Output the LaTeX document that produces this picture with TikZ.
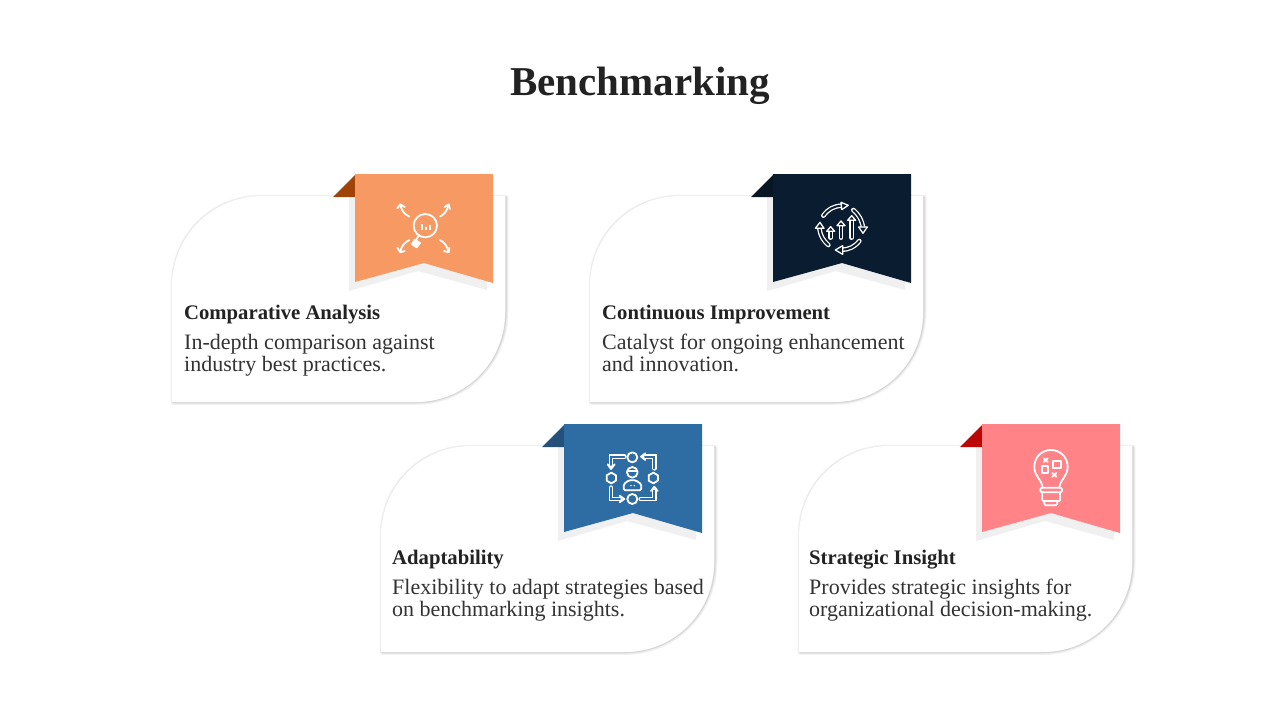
\documentclass[tikz,border=0pt]{standalone}
\usepackage{fontspec}
\setmainfont{Liberation Serif}
\usepackage{xcolor}
\definecolor{colorOrange}{HTML}{F69963}
\definecolor{colorOrangeDark}{HTML}{A04309}
\definecolor{colorNavy}{HTML}{0A1C30}
\definecolor{colorNavyDark}{HTML}{081523}
\definecolor{colorBlue}{HTML}{2E6DA4}
\definecolor{colorBlueDark}{HTML}{25507A}
\definecolor{colorPink}{HTML}{FF8387}
\definecolor{colorPinkDark}{HTML}{BE0505}
\definecolor{colorFlap}{HTML}{F0F0F0}
\definecolor{colorHead}{HTML}{222222}
\definecolor{colorBody}{HTML}{333333}
\usetikzlibrary{positioning}
\tikzset{
  titletext/.style={anchor=base, inner sep=0, text=colorHead, font=\fontsize{41}{44}\selectfont\bfseries},
  headtext/.style={anchor=base west, inner sep=0, text=colorHead, font=\fontsize{20.7}{24}\selectfont\bfseries},
  bodytext/.style={anchor=north west, inner sep=0, align=left, text=colorBody, font=\fontsize{22}{22}\selectfont},
  icon/.style={draw=white, line width=1.8pt, line join=round, line cap=round},
  thinicon/.style={icon, line width=1.3pt},
  tube/.style={draw=white, line width=4.6pt, line cap=round, postaction={draw=#1, line width=2pt, line cap=round}},
}
\begin{document}
\begin{tikzpicture}[x=1pt, y=-1pt]
\useasboundingbox (0,0) rectangle (1280,720);
\node[titletext] (title) at (640,95) {Benchmarking};
% cards
\foreach \cardx/\cardy/\main/\dark in {172/196/colorOrange/colorOrangeDark, 590/196/colorNavy/colorNavyDark, 381/446/colorBlue/colorBlueDark, 799/446/colorPink/colorPinkDark}{
  \begin{scope}[shift={(\cardx,\cardy)}]
  \foreach \w/\g in {5/4, 3.5/7, 2/11, 1/16}{
    \draw[line width=\w pt, line join=round, black!\g] (1,206.5) -- (1,90) .. controls (1,40) and (40,1) .. (90,1) -- (334,1) -- (334,116) .. controls (334,166) and (294,206.5) .. (244,206.5) -- cycle;
  }
  \fill[white] (0,206) -- (0,90) .. controls (0,40) and (40,0) .. (90,0) -- (333,0) -- (333,116) .. controls (333,166) and (294,206) .. (244,206) -- cycle;
  \fill[colorFlap] (177,1) -- (315,1) -- (315,94) -- (246,75) -- (177,95) -- cycle;
  \fill[\dark] (161,1) -- (183,-21) -- (183,1) -- cycle;
  \fill[\main] (183,-22) -- (321,-22) -- (321,87) -- (252,67) -- (183,86) -- cycle;
  \end{scope}
}
% text
\node[headtext] (headA) at (184,319) {Comparative Analysis};
\node[bodytext] (bodyA) at (184,334) {In-depth comparison against\\industry best practices.};
\node[headtext] (headB) at (602,319) {Continuous Improvement};
\node[bodytext] (bodyB) at (602,334) {Catalyst for ongoing enhancement\\and innovation.};
\node[headtext] (headC) at (392,564) {Adaptability};
\node[bodytext] (bodyC) at (392,579) {Flexibility to adapt strategies based\\on benchmarking insights.};
\node[headtext] (headD) at (809,564) {Strategic Insight};
\node[bodytext] (bodyD) at (809,579) {Provides strategic insights for\\organizational decision-making.};
% magnifier icon
\begin{scope}[shift={(320,165)}, x=0.3333pt, y=-0.3333pt]
\draw[icon] (316,182) circle (35);
\draw[icon, line width=1.8pt, line cap=butt] (305,196) -- (305,176) (317,196) -- (317,186) (329,196) -- (329,180);
\draw[icon] (296,212) -- (290,222);
\draw[icon, fill=white] (284,224) -- (300,234) -- (290,247) -- (276,238) -- cycle;
\draw[icon] (268,155) to[bend left=25] (241,120);
\draw[icon] (232,130) -- (241,118) -- (254,126);
\draw[icon] (360,155) to[bend right=25] (385,120);
\draw[icon] (374,126) -- (386,118) -- (390,132);
\draw[icon] (268,225) to[bend right=25] (241,260);
\draw[icon] (232,248) -- (241,262) -- (254,258);
\draw[icon] (360,225) to[bend left=25] (385,260);
\draw[icon] (372,258) -- (386,262) -- (388,248);
\end{scope}
% cycle icon
\begin{scope}[shift={(740,165)}, x=0.3333pt, y=-0.3333pt]
\draw[tube=colorNavy] (250,152) to[bend left=25] (305,122);
\draw[thinicon, fill=colorNavy] (303,112) -- (325,121) -- (305,134) -- cycle;
\draw[tube=colorNavy] (340,135) to[bend left=20] (369,188);
\draw[thinicon, fill=colorNavy] (356,186) -- (382,186) -- (369,205) -- cycle;
\draw[tube=colorNavy] (358,228) to[bend left=25] (305,254);
\draw[thinicon, fill=colorNavy] (308,242) -- (286,255) -- (308,268) -- cycle;
\draw[tube=colorNavy] (265,240) to[bend left=20] (238,190);
\draw[thinicon, fill=colorNavy] (226,190) -- (240,172) -- (252,190) -- cycle;
\foreach \arrowx/\arrowtop in {272/185, 303/168, 335/152}{
  \draw[tube=colorNavy] (\arrowx,218) -- (\arrowx,\arrowtop+12);
  \draw[thinicon, fill=colorNavy] (\arrowx-12,\arrowtop+14) -- (\arrowx,\arrowtop) -- (\arrowx+12,\arrowtop+14) -- cycle;
}
\end{scope}
% team icon
\begin{scope}[shift={(530,415)}, x=0.3333pt, y=-0.3333pt]
\draw[icon] (307,127) circle (15) (307,252) circle (15);
\draw[icon] (244,173) -- (258,181) -- (258,197) -- (244,205) -- (230,197) -- (230,181) -- cycle;
\draw[icon] (370,173) -- (384,181) -- (384,197) -- (370,205) -- (356,197) -- (356,181) -- cycle;
\draw[icon] (307,172) circle (16);
\draw[thinicon] (291,168) -- (323,168);
\draw[icon, rounded corners=1.5pt] (281,226) -- (281,208) -- (296,196) -- (318,196) -- (334,208) -- (334,226) -- cycle;
\fill[white] (303,212) circle (2.5) (313,212) circle (2.5);
\draw[tube=colorBlue] (283,125) -- (243,125) -- (243,150);
\draw[icon] (233,148) -- (243,162) -- (254,148);
\draw[tube=colorBlue] (373,160) -- (373,125) -- (345,125);
\draw[icon] (346,115) -- (333,125) -- (346,135);
\draw[tube=colorBlue] (243,218) -- (243,252) -- (270,252);
\draw[icon] (269,242) -- (283,252) -- (269,262);
\draw[tube=colorBlue] (332,252) -- (373,252) -- (373,227);
\draw[icon] (363,228) -- (373,215) -- (383,228);
\end{scope}
% bulb icon
\begin{scope}[shift={(950,415)}, x=0.3333pt, y=-0.3333pt]
\draw[icon] (278,218) .. controls (275,192) and (253,185) .. (253,155) .. controls (253,127) and (275,105) .. (303,105) .. controls (331,105) and (353,127) .. (353,155) .. controls (353,185) and (331,192) .. (328,218);
\draw[icon, rounded corners=1.5pt] (271,218) rectangle (336,232);
\draw[icon, rounded corners=1pt] (277,232) -- (277,258) -- (330,258) -- (330,232);
\draw[icon, rounded corners=1.5pt] (283,258) -- (283,271) -- (322,271) -- (322,258);
\draw[icon] (275,153) rectangle (294,173);
\draw[icon] (308,138) rectangle (332,160);
\draw[icon] (281,130) -- (293,141) (293,130) -- (281,141);
\draw[icon] (307,174) -- (319,185) (319,174) -- (307,185);
\end{scope}
\end{tikzpicture}
\end{document}
